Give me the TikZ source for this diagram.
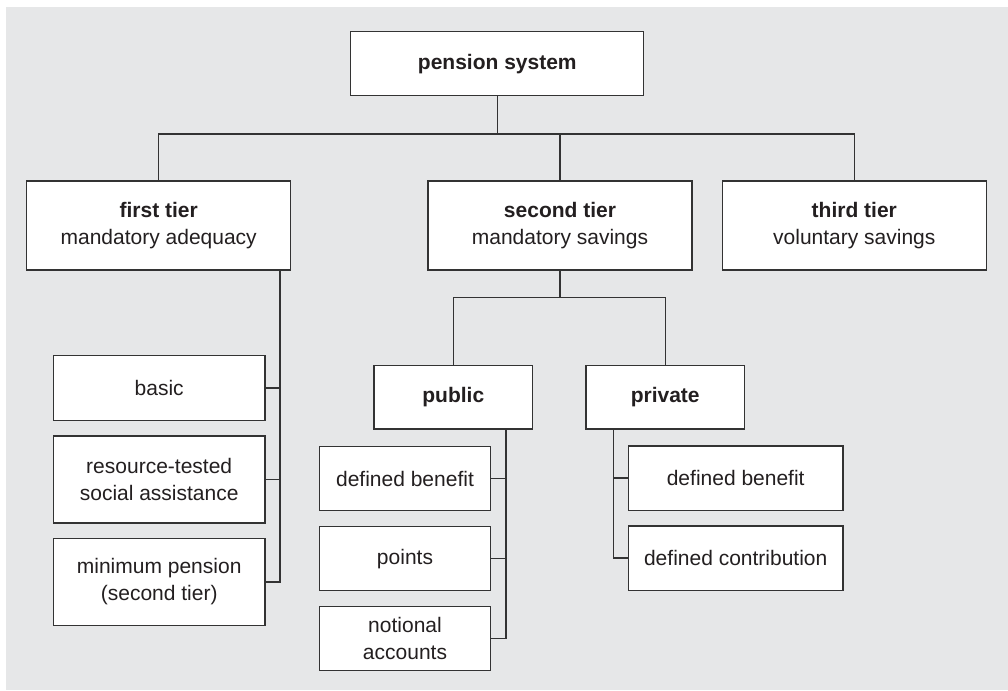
\documentclass[tikz,border=0pt]{standalone}
\usepackage{fontspec}
\setmainfont{Liberation Sans}
\usetikzlibrary{calc}
\definecolor{bggray}{HTML}{E6E7E8}
\definecolor{ink}{HTML}{231F20}
\definecolor{linec}{HTML}{333333}
\tikzset{
  box/.style={draw=linec, line width=1.3pt, fill=white, rectangle, inner sep=0pt,
    align=center, text=ink, font=\fontsize{21}{27}\selectfont},
  conn/.style={draw=linec, line width=1.3pt}
}
\begin{document}
\begin{tikzpicture}[x=1pt,y=-1pt]
\useasboundingbox (0,0) rectangle (1008,690);
\fill[bggray] (6,7) rectangle (1008,690);

% nodes
\node[box, minimum width=293pt, minimum height=64pt] (sys) at (497.3,63.8) {\textbf{pension system}};
\node[box, minimum width=264pt, minimum height=89pt] (t1) at (158.7,225.5) {\textbf{first tier}\\mandatory adequacy};
\node[box, minimum width=264pt, minimum height=89pt] (t2) at (560,225.5) {\textbf{second tier}\\mandatory savings};
\node[box, minimum width=264pt, minimum height=89pt] (t3) at (854.3,225.5) {\textbf{third tier}\\voluntary savings};

\node[box, minimum width=158.7pt, minimum height=63.7pt] (pub) at (453.3,397.2) {\textbf{public}};
\node[box, minimum width=158.3pt, minimum height=63.7pt] (pri) at (665.2,397.2) {\textbf{private}};

\node[box, minimum width=211.7pt, minimum height=64.6pt] (basic) at (159.2,388) {basic};
\node[box, minimum width=211.7pt, minimum height=87pt] (res) at (159.2,479.5) {resource-tested\\social assistance};
\node[box, minimum width=211.7pt, minimum height=86.6pt] (minp) at (159.2,582) {minimum pension\\(second tier)};

\node[box, minimum width=171.4pt, minimum height=64pt] (pdb) at (405,478.7) {defined benefit};
\node[box, minimum width=171.4pt, minimum height=64pt] (ppts) at (405,558.7) {points};
\node[box, minimum width=171.4pt, minimum height=64pt] (pna) at (405,638.7) {notional\\accounts};

\node[box, minimum width=214.3pt, minimum height=64.3pt] (vdb) at (735.7,478) {defined benefit};
\node[box, minimum width=214.3pt, minimum height=64.3pt] (vdc) at (735.7,558) {defined contribution};

% connector coordinates
\coordinate (bus) at (497.3,134);
\coordinate (bus2) at (560,297.7);
\coordinate (s1) at (280,270);
\coordinate (s2) at (506,429);
\coordinate (s3) at (613.3,429);

% top level
\draw[conn] (sys.south) -- (bus);
\draw[conn] (t1.north) -- (t1.north |- bus) -- (t3.north |- bus) -- (t3.north);
\draw[conn] (t2.north) -- (t2.north |- bus);

% second tier
\draw[conn] (t2.south) -- (bus2);
\draw[conn] (pub.north) -- (pub.north |- bus2) -- (pri.north |- bus2) -- (pri.north);

% first tier children
\draw[conn] (s1) |- (minp.east);
\draw[conn] (basic.east) -- (basic.east -| s1);
\draw[conn] (res.east) -- (res.east -| s1);

% public children
\draw[conn] (s2) |- (pna.east);
\draw[conn] (pdb.east) -- (pdb.east -| s2);
\draw[conn] (ppts.east) -- (ppts.east -| s2);

% private children
\draw[conn] (s3) |- (vdc.west);
\draw[conn] (vdb.west) -- (vdb.west -| s3);
\end{tikzpicture}
\end{document}
